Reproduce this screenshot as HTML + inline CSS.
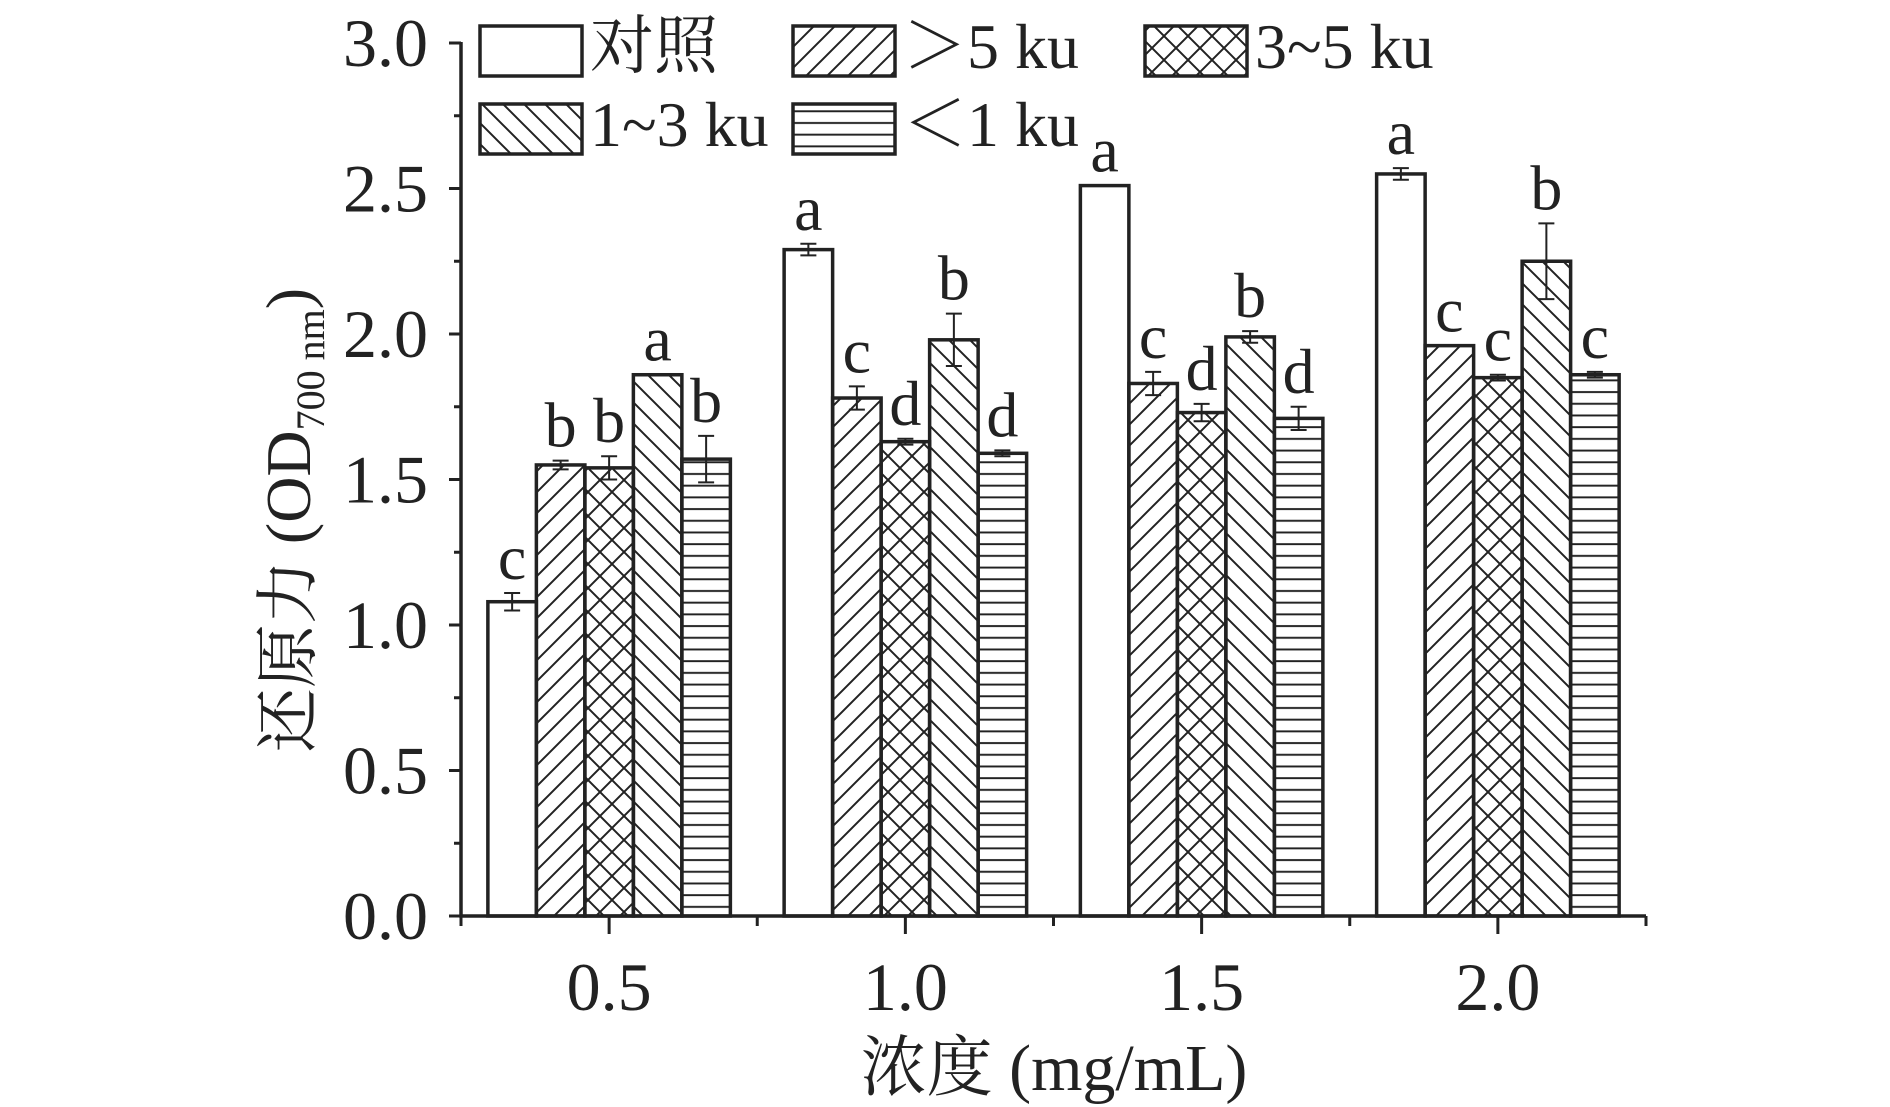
<!DOCTYPE html>
<html><head><meta charset="utf-8">
<style>
html,body{margin:0;padding:0;background:#fff;}
svg{display:block;}
text{font-family:"Liberation Serif","Noto Serif CJK SC","Noto Sans CJK SC",serif;fill:#222;}
</style></head>
<body>
<svg id="chart" width="1890" height="1107" viewBox="0 0 1890 1107" xmlns="http://www.w3.org/2000/svg">
<defs>
<pattern id="p-fwd" patternUnits="userSpaceOnUse" width="21" height="21"><path d="M-5,26 L26,-5 M-5,5 L5,-5 M16,26 L26,16" stroke="#222" stroke-width="2"/></pattern>
<pattern id="p-back" patternUnits="userSpaceOnUse" width="21" height="21"><path d="M-5,-5 L26,26 M-5,16 L5,26 M16,-5 L26,5" stroke="#222" stroke-width="2"/></pattern>
<pattern id="p-cross" patternUnits="userSpaceOnUse" width="24" height="24"><path d="M-5,29 L29,-5 M-5,5 L5,-5 M19,29 L29,19 M-5,-5 L29,29 M-5,19 L5,29 M19,-5 L29,5" stroke="#222" stroke-width="2"/></pattern>
<pattern id="p-horiz" patternUnits="userSpaceOnUse" width="20" height="11.7"><path d="M0,6 L20,6" stroke="#222" stroke-width="2"/></pattern>
</defs>
<g id="plot"></g>
</svg>
<script>
const categories = ["0.5","1.0","1.5","2.0"];
const seriesNames = ["对照","＞5 ku","3~5 ku","1~3 ku","＜1 ku"];
const valsControl = [1.08, 2.29, 2.51, 2.55];
const valsGt5 = [1.55, 1.78, 1.83, 1.96];
const vals3to5 = [1.54, 1.63, 1.73, 1.85];
const vals1to3 = [1.86, 1.98, 1.99, 2.25];
const valsLt1 = [1.57, 1.59, 1.71, 1.86];
const errControl = [0.03, 0.02, 0.0, 0.02];
const errGt5 = [0.015, 0.04, 0.04, 0.0];
const err3to5 = [0.04, 0.01, 0.03, 0.01];
const err1to3 = [0.0, 0.09, 0.02, 0.13];
const errLt1 = [0.08, 0.01, 0.04, 0.01];
const lettersControl = ["c","a","a","a"];
const lettersGt5 = ["b","c","c","c"];
const letters3to5 = ["b","d","d","c"];
const letters1to3 = ["a","b","b","b"];
const lettersLt1 = ["b","d","d","c"];
const yTicks = ["0.0","0.5","1.0","1.5","2.0","2.5","3.0"];

const series = [
 {v:valsControl,e:errControl,l:lettersControl,fill:"#fff"},
 {v:valsGt5,e:errGt5,l:lettersGt5,fill:"url(#p-fwd)"},
 {v:vals3to5,e:err3to5,l:letters3to5,fill:"url(#p-cross)"},
 {v:vals1to3,e:err1to3,l:letters1to3,fill:"url(#p-back)"},
 {v:valsLt1,e:errLt1,l:lettersLt1,fill:"url(#p-horiz)"}
];
const NS="http://www.w3.org/2000/svg";
const g=document.getElementById('plot');
const X0=461, X1=1646, Y0=916, Y3=43;
const yScale=v=>Y0-(v/3)*(Y0-Y3);
const band=(X1-X0)/categories.length;
const xCenter=i=>X0+band*(i+0.5);
const barW=48.5;
function mk(tag,attrs,parent){const el=document.createElementNS(NS,tag);for(const k in attrs)el.setAttribute(k,attrs[k]);(parent||g).appendChild(el);return el;}

series.forEach((s,si)=>{
 s.v.forEach((v,ci)=>{
  const x=xCenter(ci)-2.5*barW+si*barW;
  const y=yScale(v);
  const r=mk('rect',{x:x,y:y,width:barW,height:Y0-y,fill:s.fill,stroke:"#222","stroke-width":3.5});
  
  
  const cx=x+barW/2, e=s.e[ci];
  const yt=yScale(v+e), yb=yScale(v-e);
  const eb=mk('path',{d:`M${cx},${yt}L${cx},${yb}M${cx-8},${yt}L${cx+8},${yt}M${cx-8},${yb}L${cx+8},${yb}`,stroke:"#222","stroke-width":2,fill:"none"});
  
  
  const t=mk('text',{x:cx,y:yt-14,"text-anchor":"middle","font-size":64});
  t.textContent=s.l[ci];
  
  
 });
});
const ax=mk('path',{d:`M${X0},${Y3-1}L${X0},${Y0}L${X1},${Y0}`,stroke:"#222","stroke-width":3.5,fill:"none"});


yTicks.forEach((lab,i)=>{
 const v=parseFloat(lab), y=yScale(v);
 mk('line',{x1:X0-12,x2:X0,y1:y,y2:y,stroke:"#222","stroke-width":3});
 if(i<yTicks.length-1){const ym=yScale(v+0.25);mk('line',{x1:X0-7,x2:X0,y1:ym,y2:ym,stroke:"#222","stroke-width":3});}
 const t=mk('text',{x:428,y:y+23,"text-anchor":"end","font-size":68});
 t.textContent=lab;
 
 
});
for(let i=0;i<=categories.length;i++){
 const x=X0+band*i; mk('line',{x1:x,x2:x,y1:Y0,y2:Y0+10,stroke:"#222","stroke-width":3});
}
categories.forEach((c,i)=>{
 const x=xCenter(i);
 mk('line',{x1:x,x2:x,y1:Y0,y2:Y0+18,stroke:"#222","stroke-width":3});
 const t=mk('text',{x:x,y:1010,"text-anchor":"middle","font-size":68});
 t.textContent=c;
 
 
});
const xt=mk('text',{x:1054,y:1090,"text-anchor":"middle","font-size":66});
xt.textContent="浓度 (mg/mL)";


const yt=mk('text',{transform:"translate(310,520) rotate(-90)","text-anchor":"middle","font-size":64});
yt.innerHTML='还原力 (OD<tspan font-size="40" dy="14">700 nm</tspan><tspan dy="-14">)</tspan>';


const legPos=[[480,26],[793,26],[1145,26],[480,104],[793,104]];
series.forEach((s,si)=>{
 const [lx,ly]=legPos[si];
 const r=mk('rect',{x:lx,y:ly,width:102,height:50,fill:s.fill,stroke:"#222","stroke-width":3.5});
 
 
 const t=mk('text',{x:lx+110,y:ly+42,"font-size":64});
 t.textContent=seriesNames[si];
 
 
});
</script>
</body></html>
